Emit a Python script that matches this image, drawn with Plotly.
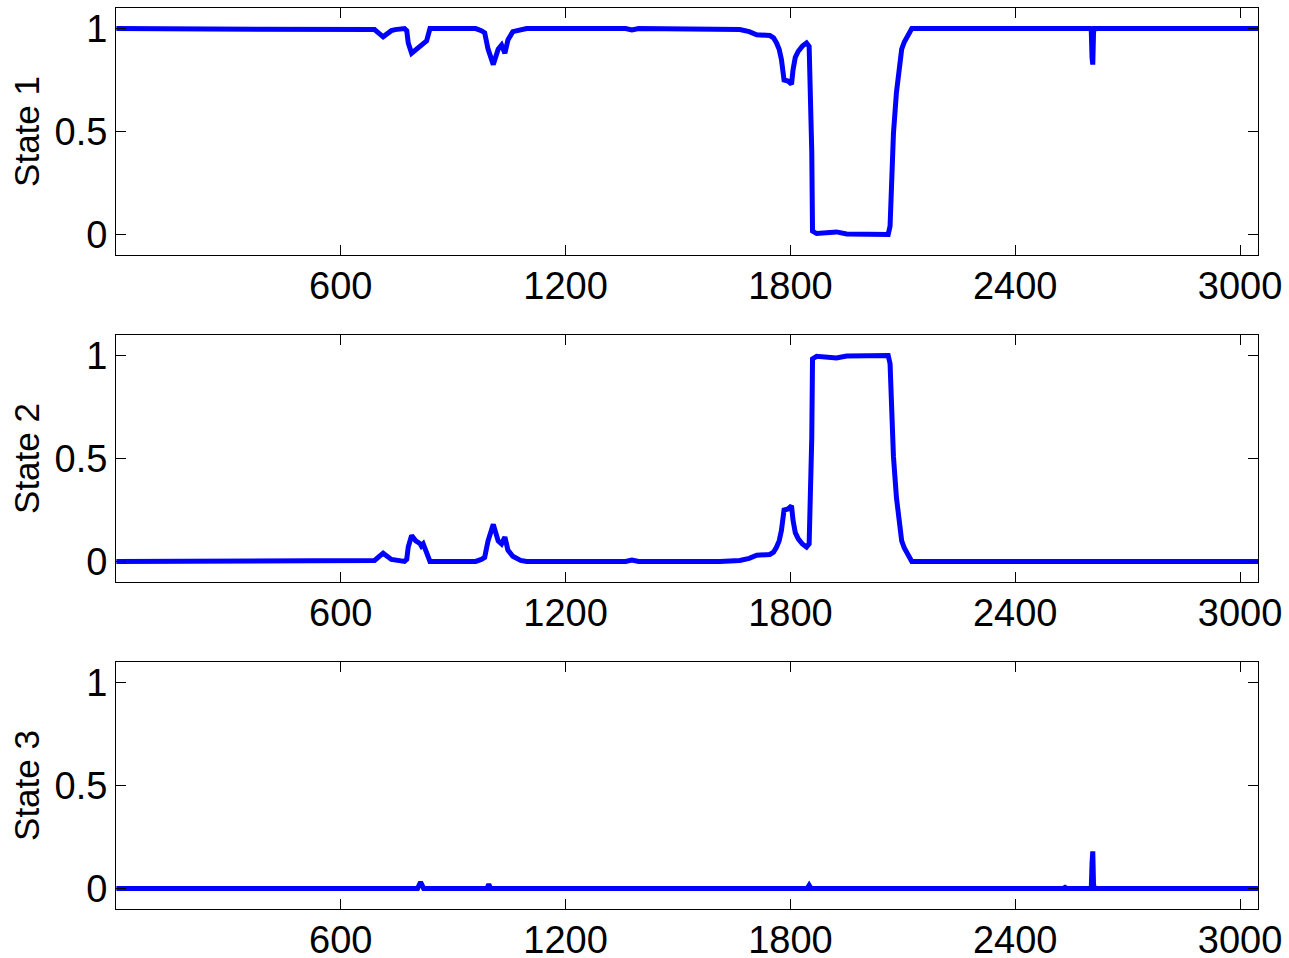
import plotly.graph_objects as go

# ---- data ----
s1_x = [1, 660, 690, 713, 735, 745, 770, 776, 780, 789, 800, 815, 829, 838, 960, 975, 984, 993, 1007,
        1020, 1029, 1038, 1046, 1059, 1080, 1096, 1360, 1377, 1395, 1612, 1665, 1690, 1710, 1745,
        1755, 1763, 1770, 1776, 1783, 1794, 1803, 1807, 1813, 1821, 1832, 1843, 1850, 1857, 1859,
        1870, 1900, 1923, 1950, 2061, 2066, 2070, 2075, 2083, 2090, 2097, 2104, 2110, 2124, 2600,
        2603, 2605, 2607, 2609, 2611, 3048]
s1_y = [1.0, 1.0, 0.995, 0.96, 0.99, 0.995, 1.0, 0.99, 0.93, 0.88, 0.895, 0.92, 0.94, 1.0, 1.0, 0.99,
        0.98, 0.90, 0.825, 0.90, 0.92, 0.88, 0.945, 0.985, 0.995, 1.0, 1.0, 0.993, 1.0, 1.0, 0.995,
        0.985, 0.97, 0.966, 0.955, 0.93, 0.90, 0.85, 0.75, 0.745, 0.73, 0.80, 0.86, 0.89, 0.915, 0.93,
        0.914, 0.40, 0.016, 0.004, 0.006, 0.012, 0.002, 0.0, 0.04, 0.25, 0.49, 0.69, 0.81, 0.90,
        0.935, 0.955, 1.0, 1.0, 0.99, 0.86, 0.825, 0.98, 1.0, 1.0]

s2_x = [1, 660, 690, 713, 735, 770, 776, 780, 789, 800, 811, 815, 820, 838, 960, 975, 984, 993, 1007,
        1020, 1029, 1038, 1046, 1059, 1080, 1096, 1360, 1377, 1395, 1612, 1665, 1690, 1710, 1745,
        1755, 1763, 1770, 1776, 1783, 1794, 1803, 1807, 1813, 1821, 1832, 1843, 1850, 1857, 1859,
        1870, 1900, 1923, 1950, 2061, 2066, 2070, 2075, 2083, 2090, 2097, 2104, 2110, 2124, 3048]
s2_y = [0.0, 0.0, 0.005, 0.04, 0.01, 0.0, 0.01, 0.07, 0.126, 0.10, 0.087, 0.075, 0.085, 0.0, 0.0,
        0.01, 0.02, 0.10, 0.18, 0.10, 0.085, 0.118, 0.055, 0.025, 0.005, 0.0, 0.0, 0.007, 0.0, 0.0,
        0.005, 0.015, 0.03, 0.034, 0.045, 0.07, 0.10, 0.15, 0.25, 0.255, 0.27, 0.20, 0.14, 0.11,
        0.085, 0.07, 0.086, 0.60, 0.984, 0.996, 0.994, 0.988, 0.998, 1.0, 0.96, 0.75, 0.51, 0.31,
        0.19, 0.10, 0.065, 0.045, 0.0, 0.0]

s3_x = [1, 805, 810, 813, 816, 821, 990, 995, 1000, 1845, 1850, 1855, 2528, 2533, 2538, 2603, 2605,
        2607, 2609, 2611, 3048]
s3_y = [0.0, 0.0, 0.02, 0.03, 0.02, 0.0, 0.0, 0.02, 0.0, 0.0, 0.015, 0.0, 0.0, 0.005, 0.0, 0.0,
        0.12, 0.18, 0.02, 0.0, 0.0]

x_ticks = [600, 1200, 1800, 2400, 3000]
y_ticks = [0, 0.5, 1]
y_tick_text = ["0", "0.5", "1"]
titles = ["State 1", "State 2", "State 3"]

series = [(s1_x, s1_y), (s2_x, s2_y), (s3_x, s3_y)]
domains = [[0.7259, 1.0], [0.3629, 0.6371], [0.0, 0.2741]]

FONT = "Liberation Sans, Arial, sans-serif"
fig = go.Figure()
for i, (xs, ys) in enumerate(series):
    n = "" if i == 0 else str(i + 1)
    fig.add_trace(go.Scatter(x=xs, y=ys, mode="lines", xaxis="x" + n, yaxis="y" + n,
                             line=dict(color="#0000FF", width=5), showlegend=False))
    common = dict(showline=True, linecolor="black", linewidth=1, mirror="allticks",
                  ticks="inside", ticklen=10, tickcolor="black", showgrid=False, zeroline=False,
                  ticklabeloverflow="allow",
                  tickfont=dict(family=FONT, size=38, color="black"))
    fig.update_layout(**{
        "xaxis" + n: dict(range=[0, 3048], tickvals=x_ticks, anchor="y" + n, domain=[0, 1],
                          ticklabelstandoff=-3, **common),
        "yaxis" + n: dict(range=[-0.1, 1.1], tickvals=y_ticks, ticktext=y_tick_text,
                          anchor="x" + n, domain=domains[i],
                          title=dict(text=titles[i], font=dict(family=FONT, size=35, color="black"),
                                     standoff=4), **common),
    })

fig.update_layout(width=1289, height=990, margin=dict(l=116, r=31, t=8, b=81),
                  plot_bgcolor="white", paper_bgcolor="white")
# remove the default 8px page margin so the figure sits at the window origin
fig.write_html("out.html", config={"displayModeBar": False},
               post_script="document.body.style.margin='0px';document.body.style.overflow='hidden';")
